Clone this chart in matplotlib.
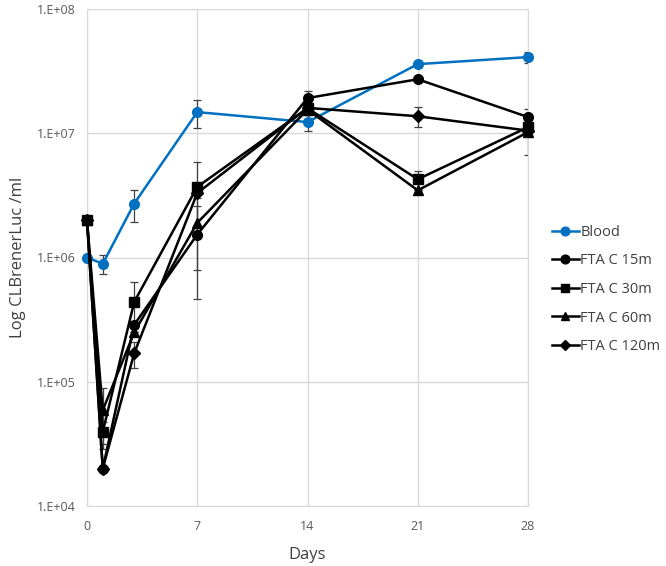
import matplotlib
matplotlib.use("Agg")
import matplotlib.pyplot as plt
from matplotlib.ticker import FixedLocator, FixedFormatter, NullLocator

plt.rcParams['font.family'] = ['Open Sans', 'DejaVu Sans']

days = [0, 1, 3, 7, 14, 21, 28]
x_ticks = [0, 7, 14, 21, 28]
y_ticks = [1e4, 1e5, 1e6, 1e7, 1e8]
y_tick_labels = ["1.E+04", "1.E+05", "1.E+06", "1.E+07", "1.E+08"]

blood = [1.0e6, 0.89e6, 2.72e6, 1.48e7, 1.23e7, 3.6e7, 4.1e7]
blood_err = [0.05e6, 0.15e6, 0.8e6, 3.7e6, 1.8e6, 1.0e6, 4.0e6]

fta15 = [2.0e6, 2.0e4, 2.88e5, 1.53e6, 1.92e7, 2.72e7, 1.35e7]
fta15_err = [0, 0, 0, 1.07e6, 2.6e6, 0, 0]

fta30 = [2.0e6, 3.95e4, 4.4e5, 3.7e6, 1.59e7, 4.26e6, 1.12e7]
fta30_err = [0, 0.8e4, 1.9e5, 2.2e6, 0, 0.7e6, 4.5e6]

fta60 = [2.0e6, 5.9e4, 2.5e5, 1.9e6, 1.55e7, 3.47e6, 1.02e7]
fta60_err = [0, 3.0e4, 0, 1.1e6, 0, 0, 0]

fta120 = [2.0e6, 2.0e4, 1.7e5, 3.3e6, 1.6e7, 1.37e7, 1.05e7]
fta120_err = [0, 0, 4.0e4, 0, 0, 2.5e6, 0]

series = [
    ("Blood", blood, blood_err, '#0070C0', 'o', 7),
    ("FTA C 15m", fta15, fta15_err, 'black', 'o', 7),
    ("FTA C 30m", fta30, fta30_err, 'black', 's', 7),
    ("FTA C 60m", fta60, fta60_err, 'black', '^', 7),
    ("FTA C 120m", fta120, fta120_err, 'black', 'D', 6),
]

fig = plt.figure(figsize=(6.66, 5.66), dpi=100)
ax = fig.add_axes([87/666, 1-506/566, (528-87)/666, (506-9)/566])

for name, vals, err, col, mk, ms in series:
    ax.errorbar(days, vals, yerr=err, fmt='none', ecolor='#404040',
                elinewidth=0.9, capsize=3, capthick=0.9, zorder=2)
    ax.plot(days, vals, color=col, marker=mk, markersize=ms, linewidth=1.8,
            label=name, zorder=3, clip_on=False)

ax.set_yscale('log')
ax.set_ylim(1e4, 1e8)
ax.set_xlim(0, 28)
ax.yaxis.set_major_locator(FixedLocator(y_ticks))
ax.yaxis.set_major_formatter(FixedFormatter(y_tick_labels))
ax.yaxis.set_minor_locator(NullLocator())
ax.xaxis.set_major_locator(FixedLocator(x_ticks))
ax.grid(True, color='#d9d9d9', linewidth=1)
ax.set_axisbelow(True)
for s in ax.spines.values():
    s.set_color('#d9d9d9')
ax.tick_params(length=0, labelsize=9, colors='#595959')
ax.tick_params(axis='x', pad=10)
ax.tick_params(axis='y', pad=8)
ax.set_xlabel("Days", fontsize=12, color='#404040', labelpad=10)
ax.set_ylabel("Log CLBrenerLuc /ml", fontsize=12, color='#404040', labelpad=8)

fig.legend(loc='upper left', bbox_to_anchor=(546/666, 1-219/566), frameon=False,
           fontsize=10.5, labelcolor='#404040', handlelength=1.85, handletextpad=0.1,
           labelspacing=0.93, borderaxespad=0, markerscale=0.9)

fig.savefig("out.png", dpi=100)
